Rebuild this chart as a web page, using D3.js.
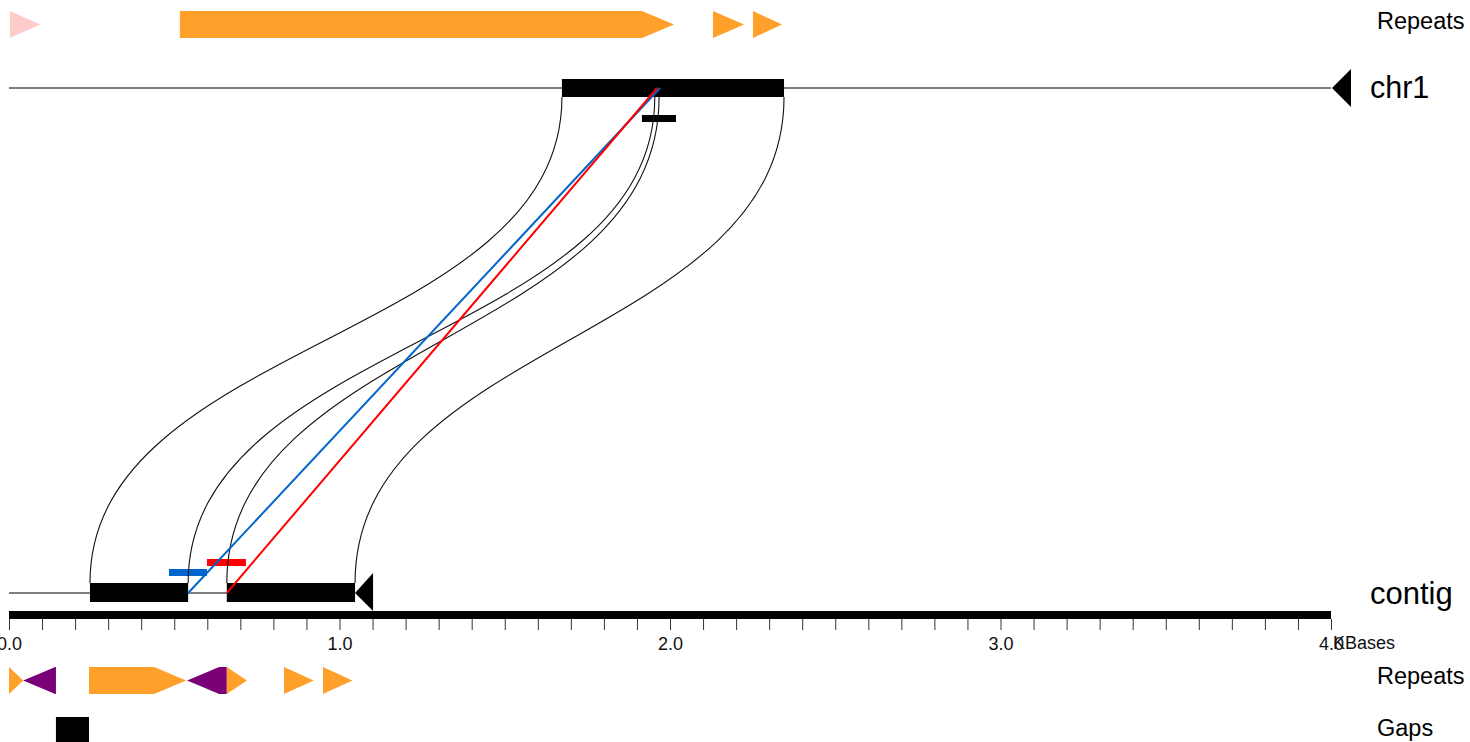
<!DOCTYPE html>
<html><head><meta charset="utf-8">
<script src="https://cdn.jsdelivr.net/npm/d3@7"></script>
<style>
html,body{margin:0;padding:0;background:#fff;}
svg{display:block;font-family:"Liberation Sans",Arial,Helvetica,sans-serif;}
</style></head>
<body>
<svg id="chart" width="1470" height="742"></svg>
<script>
// ---- data (KBases) ----
const seqNames = ["chr1", "contig"];
const seqLengths = [4.0, 1.047];
const chr1Blocks = [[1.673, 2.345]];
const contigBlocks = [[0.245, 0.542], [0.659, 1.047]];
const chr1Hits = [[1.915, 2.018]];
// [start, end, strand, type]
const chr1Repeats = [
  [0.003, 0.094, "+", "pink"],
  [0.517, 2.012, "+", "orange"],
  [2.130, 2.224, "+", "orange"],
  [2.251, 2.339, "+", "orange"]
];
const contigRepeats = [
  [0.000, 0.043, "+", "orange"],
  [0.043, 0.142, "-", "purple"],
  [0.242, 0.536, "+", "orange"],
  [0.539, 0.659, "-", "purple"],
  [0.659, 0.720, "+", "orange"],
  [0.832, 0.922, "+", "orange"],
  [0.950, 1.039, "+", "orange"]
];
const contigGaps = [[0.142, 0.242]];
// links: [chrStart, chrEnd, ctgStart, ctgEnd]
const links = [
  [1.673, 1.954, 0.245, 0.542],
  [1.967, 2.345, 0.659, 1.047]
];
// alignment lines: [contigPos, chrPos, color]
const alignLines = [
  [0.542, 1.970, "blue"],
  [0.659, 1.961, "red"]
];
// contig hits: [start, end, color, level]
const contigHits = [
  [0.484, 0.599, "blue", 0],
  [0.599, 0.717, "red", 1]
];
const tickValues = d3.range(0, 41).map(i => i / 10);
const majorTicks = [0, 1, 2, 3, 4];
const axisUnit = "KBases";
const trackLabels = ["Repeats", "Repeats", "Gaps"];

// ---- styles ----
const colors = {orange: "#ffa02a", purple: "#7a0078", pink: "#ffcccc", blue: "#0066cc", red: "#ff0000"};

const svg = d3.select("#chart");
const x = d3.scaleLinear().domain([0, 4]).range([9, 1331]);

const yChr = 88, yCtg = 593;
const yTopRep = 24.5, yBotRep = 680.5, repH = 27, head = 32;

function arrowPath(s, e, strand, yc, h) {
  const x0 = x(s), x1 = x(e), t = yc - h / 2, b = yc + h / 2;
  const len = x1 - x0;
  if (strand === "+") {
    if (len > head) return `M${x0},${t}L${x1 - head},${t}L${x1},${yc}L${x1 - head},${b}L${x0},${b}Z`;
    return `M${x0},${t}L${x1},${yc}L${x0},${b}Z`;
  } else {
    if (len > head) return `M${x1},${t}L${x0 + head},${t}L${x0},${yc}L${x0 + head},${b}L${x1},${b}Z`;
    return `M${x1},${t}L${x0},${yc}L${x1},${b}Z`;
  }
}

// repeats
svg.append("g").selectAll("path").data(chr1Repeats).join("path")
  .attr("d", d => arrowPath(d[0], d[1], d[2], yTopRep, repH))
  .attr("fill", d => colors[d[3]]);
svg.append("g").selectAll("path").data(contigRepeats).join("path")
  .attr("d", d => arrowPath(d[0], d[1], d[2], yBotRep, repH))
  .attr("fill", d => colors[d[3]]);

// gaps
svg.append("g").selectAll("rect").data(contigGaps).join("rect")
  .attr("x", d => x(d[0])).attr("width", d => x(d[1]) - x(d[0]))
  .attr("y", 717).attr("height", 28).attr("fill", "#000");

// sequence lines
svg.append("line").attr("x1", x(0)).attr("x2", x(seqLengths[0])).attr("y1", yChr).attr("y2", yChr)
  .attr("stroke", "#000").attr("stroke-width", 1);
svg.append("line").attr("x1", x(0)).attr("x2", x(seqLengths[1])).attr("y1", yCtg).attr("y2", yCtg)
  .attr("stroke", "#000").attr("stroke-width", 1);
// strand triangles (reverse)
const te1 = x(seqLengths[0]);
svg.append("path").attr("d", `M${te1 + 1},${yChr}L${te1 + 20},${yChr - 19}L${te1 + 20},${yChr + 19}Z`).attr("fill", "#000");
const te2 = x(seqLengths[1]);
svg.append("path").attr("d", `M${te2},${yCtg}L${te2 + 18},${yCtg - 20}L${te2 + 18},${yCtg + 18}Z`).attr("fill", "#000");

// blocks
svg.append("g").selectAll("rect").data(chr1Blocks).join("rect")
  .attr("x", d => x(d[0])).attr("width", d => x(d[1]) - x(d[0]))
  .attr("y", 79).attr("height", 18).attr("fill", "#000");
svg.append("g").selectAll("rect").data(contigBlocks).join("rect")
  .attr("x", d => x(d[0])).attr("width", d => x(d[1]) - x(d[0]))
  .attr("y", 583).attr("height", 19).attr("fill", "#000");

// hits
svg.append("g").selectAll("rect").data(chr1Hits).join("rect")
  .attr("x", d => x(d[0])).attr("width", d => x(d[1]) - x(d[0]))
  .attr("y", 115).attr("height", 7).attr("fill", "#000");
svg.append("g").selectAll("rect").data(contigHits).join("rect")
  .attr("x", d => x(d[0])).attr("width", d => x(d[1]) - x(d[0]))
  .attr("y", d => 569 - d[3] * 10).attr("height", 7).attr("fill", d => colors[d[2]]);

// link curves
const yT = 97, yB = 583, yM = (yT + yB) / 2;
const curveG = svg.append("g").attr("fill", "none").attr("stroke", "#111").attr("stroke-width", 1.1);
links.forEach(l => {
  [[l[0], l[2]], [l[1], l[3]]].forEach(p => {
    const a = x(p[0]), b = x(p[1]);
    curveG.append("path").attr("d", `M${a},${yT}C${a},${yM} ${b},${yM} ${b},${yB}`);
  });
});

// alignment lines
svg.append("g").selectAll("line").data(alignLines).join("line")
  .attr("x1", d => x(d[0])).attr("y1", yCtg)
  .attr("x2", d => x(d[1])).attr("y2", yChr)
  .attr("stroke", d => colors[d[2]]).attr("stroke-width", 2);

// axis
svg.append("rect").attr("x", x(0)).attr("width", x(4) - x(0)).attr("y", 611).attr("height", 8).attr("fill", "#000");
const axis = d3.axisBottom(x).tickValues(tickValues).tickSize(11).tickPadding(7)
  .tickFormat(d => majorTicks.some(m => Math.abs(m - d) < 1e-9) ? d3.format(".1f")(d) : "");
const ag = svg.append("g").attr("transform", "translate(0,619)").call(axis);
ag.select(".domain").remove();
ag.selectAll(".tick line").attr("stroke", "#333");
ag.selectAll(".tick text").attr("font-size", 18).attr("font-family", "Liberation Sans, Arial, sans-serif").attr("fill", "#111");
svg.append("text").attr("x", x(4) + 2).attr("y", 649).attr("font-size", 18).attr("fill", "#111").text(axisUnit);

// labels
svg.append("text").attr("x", 1377).attr("y", 29).attr("font-size", 23.5).text(trackLabels[0]);
svg.append("text").attr("x", 1370).attr("y", 98).attr("font-size", 30.5).text(seqNames[0]);
svg.append("text").attr("x", 1370).attr("y", 604).attr("font-size", 31).text(seqNames[1]);
svg.append("text").attr("x", 1377).attr("y", 684).attr("font-size", 23.5).text(trackLabels[1]);
svg.append("text").attr("x", 1377).attr("y", 736).attr("font-size", 23.5).text(trackLabels[2]);
</script>
</body></html>
